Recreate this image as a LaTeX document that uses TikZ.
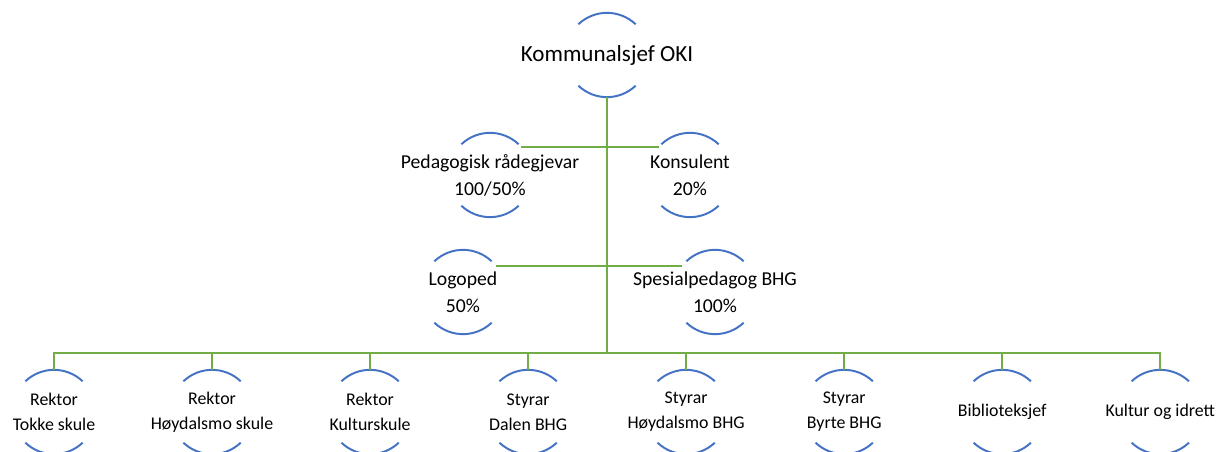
\documentclass[tikz,border=0pt]{standalone}
\usepackage{fontspec}
\setmainfont{Carlito}
\usetikzlibrary{chains,positioning,scopes}
\definecolor{arcblue}{RGB}{68,114,196}
\definecolor{linkgreen}{RGB}{112,173,71}

\begin{document}
\begin{tikzpicture}
      [
        x=0.025cm, y=0.025cm,
        unit/.style={circle, minimum size=2.1cm, inner sep=0pt, outer sep=0pt},
        rim/.style={draw=arcblue, line width=1.4pt},
        link/.style={draw=linkgreen, line width=1.4pt},
        boss/.style={unit, label={[font=\fontsize{16.4}{20}\selectfont]center:#1}},
        aide/.style={unit, label={[align=center, font=\fontsize{14}{19.2}\selectfont]center:#1}},
        head/.style={unit, on chain, label={[align=center, font=\fontsize{12.7}{17.8}\selectfont]center:#1}},
      ]
      \useasboundingbox (0,0) rectangle (1218,452);

      \node [boss={Kommunalsjef OKI}] (top) at (607,397) {};

      \node [aide={Pedagogisk rådegjevar\\100/50\%}] (ped) at (490,277) {};
      \node [aide={Konsulent\\20\%}] (kons) at (690,277) {};
      \node [aide={Logoped\\50\%}] (logo) at (463,160) {};
      \node [aide={Spesialpedagog BHG\\100\%}] (spes) at (715,160) {};

      { [start chain = going right, node distance = 1.85cm]
      \node [head={Rektor\\Tokke skule}] (r1) at (54,40) {};
      \node [head={Rektor\\Høydalsmo skule}] (r2) {};
      \node [head={Rektor\\Kulturskule}] (r3) {};
      \node [head={Styrar\\Dalen BHG}] (r4) {};
      \node [head={Styrar\\Høydalsmo BHG}] (r5) {};
      \node [head={Styrar\\Byrte BHG}] (r6) {};
      \node [head={Biblioteksjef}] (r7) {};
      \node [head={Kultur og idrett}] (r8) {};
      }

      % top and bottom arcs of every circle
      \foreach \n in {top,ped,kons,logo,spes,r1,r2,r3,r4,r5,r6,r7,r8}
        \draw[rim] (\n.47) to[out=137, in=43] (\n.133)
                   (\n.-47) to[out=-137, in=-43] (\n.-133);

      \coordinate (bus) at (607,99);
      \draw[link] (top.south) -- (bus);
      \draw[link] (ped.42) -- (kons.138);
      \draw[link] (logo.39) -- (spes.141);
      \foreach \n in {r1,r2,r3,r4,r5,r6,r7,r8}
        \draw[link] (bus) -| (\n.north);
    \end{tikzpicture}
\end{document}
